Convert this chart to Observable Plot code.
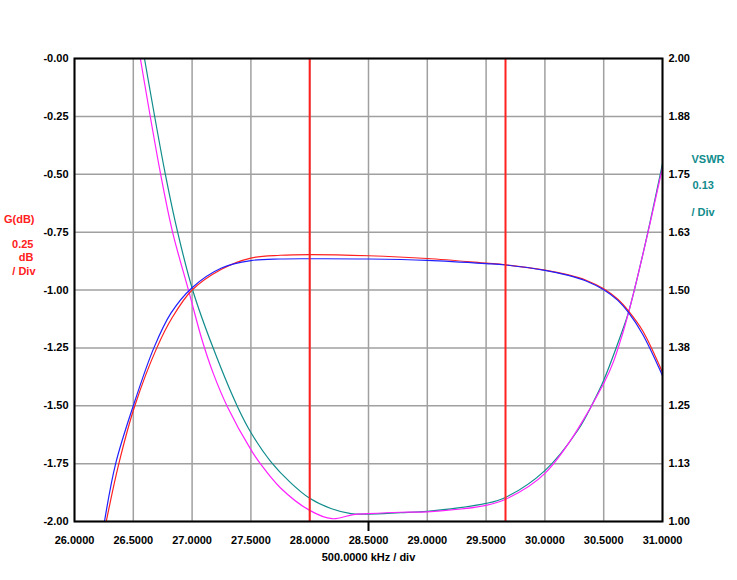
<!DOCTYPE html>
<html>
<head>
<meta charset="utf-8">
<script src="https://cdn.jsdelivr.net/npm/d3@7"></script>
<script src="https://cdn.jsdelivr.net/npm/@observablehq/plot@0.6"></script>
<style>
  html, body { margin: 0; padding: 0; background: #fff; }
</style>
</head>
<body>
<div id="chart"></div>
<script>
// ---- Axis ticks ----
const freqTicks = [26.0, 26.5, 27.0, 27.5, 28.0, 28.5, 29.0, 29.5, 30.0, 30.5, 31.0];
const gainTicks = [-2.0, -1.75, -1.5, -1.25, -1.0, -0.75, -0.5, -0.25, 0.0];
const gainTickLabels = ["-2.00", "-1.75", "-1.50", "-1.25", "-1.00", "-0.75", "-0.50", "-0.25", "-0.00"];
const vswrTicks = [1.0, 1.125, 1.25, 1.375, 1.5, 1.625, 1.75, 1.875, 2.0];
const vswrTickLabels = ["1.00", "1.13", "1.25", "1.38", "1.50", "1.63", "1.75", "1.88", "2.00"];
const markerFreqs = [28.0, 29.665];

// ---- Gain (dB), red trace ----
const gainRedFreq = [26.27, 26.377, 26.513, 26.70, 26.83, 27.00, 27.25, 27.50, 27.75, 28.00, 28.50, 29.00, 29.50, 29.665, 30.00, 30.20, 30.35, 30.50, 30.62, 30.71, 30.83, 31.00];
const gainRedDb   = [-2.00, -1.75, -1.50, -1.25, -1.12, -1.00, -0.91, -0.862, -0.850, -0.847, -0.852, -0.864, -0.884, -0.891, -0.914, -0.935, -0.958, -0.995, -1.040, -1.090, -1.175, -1.356];

// ---- Gain (dB), blue trace ----
const gainBlueFreq = [26.255, 26.35, 26.50, 26.675, 26.82, 27.00, 27.25, 27.50, 27.75, 28.00, 28.50, 29.00, 29.50, 29.665, 30.00, 30.20, 30.35, 30.50, 30.62, 30.71, 30.83, 31.00];
const gainBlueDb   = [-2.00, -1.75, -1.50, -1.25, -1.10, -0.99, -0.905, -0.873, -0.866, -0.865, -0.866, -0.872, -0.886, -0.892, -0.915, -0.937, -0.961, -0.999, -1.045, -1.097, -1.19, -1.37];

// ---- VSWR, teal trace ----
const vswrTealFreq = [26.595, 26.771, 26.878, 27.006, 27.18, 27.386, 27.505, 27.667, 27.837, 28.00, 28.18, 28.35, 28.50, 28.77, 29.00, 29.50, 29.665, 30.00, 30.28, 30.41, 30.50, 30.66, 30.71, 30.84, 31.00];
const vswrTeal     = [2.000, 1.752, 1.624, 1.499, 1.374, 1.248, 1.190, 1.130, 1.084, 1.050, 1.028, 1.017, 1.016, 1.019, 1.022, 1.039, 1.052, 1.110, 1.197, 1.257, 1.305, 1.413, 1.451, 1.585, 1.773];

// ---- VSWR, magenta trace ----
const vswrMagFreq = [26.56, 26.731, 26.835, 26.97, 27.086, 27.18, 27.30, 27.505, 27.58, 27.75, 28.00, 28.19, 28.37, 28.50, 28.77, 29.00, 29.50, 29.665, 30.00, 30.50, 30.66, 31.00];
const vswrMag     = [2.000, 1.752, 1.624, 1.499, 1.391, 1.320, 1.248, 1.153, 1.125, 1.073, 1.024, 1.006, 1.015, 1.017, 1.020, 1.021, 1.035, 1.048, 1.104, 1.298, 1.405, 1.765];

// VSWR (right axis, 1..2) shares the plot area with gain (left axis, -2..0)
const vswrToGainAxis = v => -2 + 2 * (v - 1);

const redRows  = gainRedFreq.map((f, i) => ({f, y: gainRedDb[i]}));
const blueRows = gainBlueFreq.map((f, i) => ({f, y: gainBlueDb[i]}));
const tealRows = vswrTealFreq.map((f, i) => ({f, y: vswrToGainAxis(vswrTeal[i])}));
const magRows  = vswrMagFreq.map((f, i) => ({f, y: vswrToGainAxis(vswrMag[i])}));

const gainLabel = new Map(gainTicks.map((t, i) => [t.toFixed(3), gainTickLabels[i]]));
const vswrPos = vswrTicks.map(vswrToGainAxis);
const vswrLabel = new Map(vswrPos.map((t, i) => [t.toFixed(3), vswrTickLabels[i]]));

const chart = Plot.plot({
  width: 737,
  height: 580,
  marginLeft: 74,
  marginRight: 75,
  marginTop: 58,
  marginBottom: 59,
  x: {domain: [26, 31]},
  y: {domain: [-2, 0]},
  style: {
    fontFamily: "'Liberation Sans', Arial, sans-serif",
    fontSize: "11px",
    fontWeight: "bold",
    background: "#fff",
    color: "#000"
  },
  marks: [
    Plot.ruleX(freqTicks, {stroke: "#a0a0a0", strokeWidth: 1.5}),
    Plot.ruleY(gainTicks, {stroke: "#a0a0a0", strokeWidth: 1.5}),
    Plot.line(tealRows, {x: "f", y: "y", stroke: "#108c8c", strokeWidth: 1.2, curve: "catmull-rom"}),
    Plot.line(magRows, {x: "f", y: "y", stroke: "#ff20ff", strokeWidth: 1.2, curve: "catmull-rom"}),
    Plot.line(redRows, {x: "f", y: "y", stroke: "#ff2020", strokeWidth: 1.2, curve: "catmull-rom"}),
    Plot.line(blueRows, {x: "f", y: "y", stroke: "#2020ff", strokeWidth: 1.2, curve: "catmull-rom"}),
    Plot.ruleX(markerFreqs, {stroke: "#ff2020", strokeWidth: 2}),
    Plot.frame({stroke: "#000", strokeWidth: 2}),
    Plot.axisX(freqTicks, {anchor: "bottom", tickSize: 0, tickPadding: 15, tickFormat: d => d.toFixed(4), label: null}),
    Plot.axisX([28.5], {anchor: "bottom", tickSize: 10, tickPadding: 0, tickFormat: () => "", label: null, strokeWidth: 2, stroke: "#000"}),
    Plot.axisY(gainTicks, {anchor: "left", tickSize: 0, tickPadding: 6, tickFormat: d => gainLabel.get(d.toFixed(3)), label: null}),
    Plot.axisY(vswrPos, {anchor: "right", tickSize: 0, tickPadding: 6, tickFormat: d => vswrLabel.get(d.toFixed(3)), label: null}),
    Plot.text(["500.0000 kHz / div"], {frameAnchor: "bottom", dy: 39, fill: "#000"}),
    Plot.text(["G(dB)"], {frameAnchor: "left", dx: -40, dy: -71, textAnchor: "end", fill: "#ff2020"}),
    Plot.text(["0.25"], {frameAnchor: "left", dx: -41, dy: -46, textAnchor: "end", fill: "#ff2020"}),
    Plot.text(["dB"], {frameAnchor: "left", dx: -41, dy: -33, textAnchor: "end", fill: "#ff2020"}),
    Plot.text(["/ Div"], {frameAnchor: "left", dx: -39, dy: -19, textAnchor: "end", fill: "#ff2020"}),
    Plot.text(["VSWR"], {frameAnchor: "right", dx: 29, dy: -131, textAnchor: "start", fill: "#108c8c"}),
    Plot.text(["0.13"], {frameAnchor: "right", dx: 30, dy: -105, textAnchor: "start", fill: "#108c8c"}),
    Plot.text(["/ Div"], {frameAnchor: "right", dx: 29, dy: -78, textAnchor: "start", fill: "#108c8c"})
  ]
});
document.getElementById("chart").appendChild(chart);
</script>
</body>
</html>
